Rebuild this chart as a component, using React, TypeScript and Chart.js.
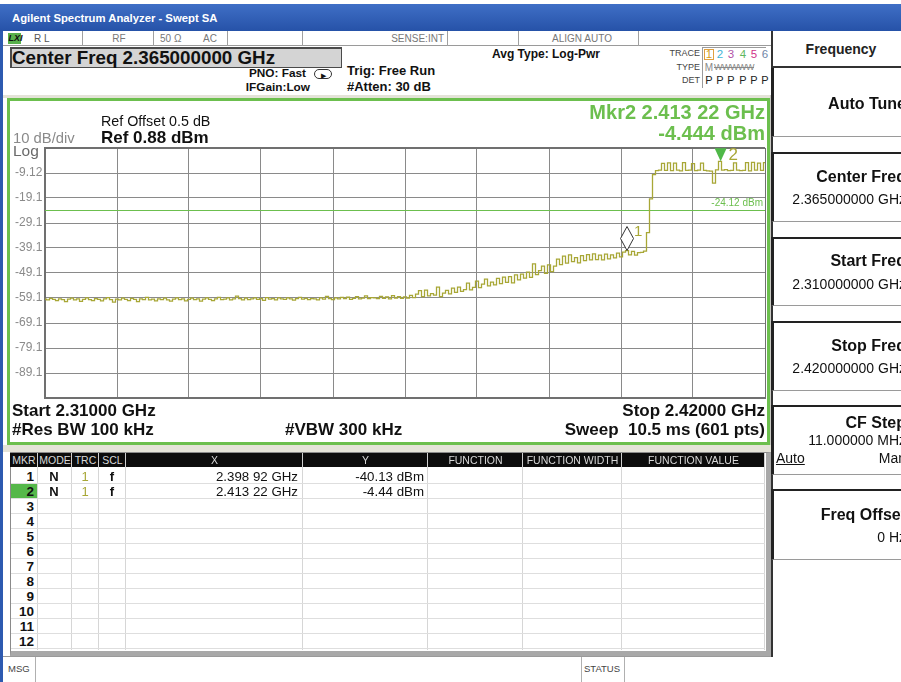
import React, { useEffect, useRef } from 'react';
import { Chart, registerables } from 'chart.js';
Chart.register(...registerables);

// ---------- data ----------
const sweepStartGHz = 2.31;
const sweepStopGHz = 2.42;
const xGridGHz = [2.31, 2.321, 2.332, 2.343, 2.354, 2.365, 2.376, 2.387, 2.398, 2.409, 2.42];
const yGridDbm = [-99.12, -89.12, -79.12, -69.12, -59.12, -49.12, -39.12, -29.12, -19.12, -9.12, 0.88];
const yTickLabels = ['', '-89.1', '-79.1', '-69.1', '-59.1', '-49.1', '-39.1', '-29.1', '-19.1', '-9.12', ''];
const displayLineDbm = -24.12;
const markerFreqGHz = [2.39892, 2.41322];
const markerDbm = [-40.13, -4.444];
const traceDbm = [
  -59.6, -59.9, -59.3, -59.7, -60.2, -59.5, -59.8, -60.6, -59.6, -59.2,
  -59.9, -59.5, -60.5, -59.7, -59.1, -59.8, -60.2, -59.4, -59.7, -60.3,
  -59.5, -59.0, -59.8, -60.8, -59.6, -59.9, -59.2, -59.7, -60.2, -59.3,
  -59.7, -60.6, -59.5, -59.8, -58.9, -59.9, -59.6, -60.3, -59.5, -59.8,
  -59.2, -59.9, -60.4, -59.6, -59.1, -59.8, -59.5, -60.3, -59.7, -59.2,
  -59.8, -59.5, -60.4, -59.6, -59.1, -59.7, -60.2, -59.5, -58.9, -59.8,
  -59.6, -59.1, -59.9, -59.5, -58.4, -59.4, -59.9, -59.2, -59.8, -59.5,
  -59.1, -59.7, -59.4, -60.1, -59.0, -59.6, -59.4, -59.9, -59.1, -59.5,
  -59.7, -59.1, -59.5, -60.0, -59.4, -58.9, -59.6, -59.3, -59.8, -59.4,
  -59.5, -59.9, -59.1, -59.6, -58.5, -59.4, -59.8, -59.1, -59.5, -58.9,
  -59.4, -58.8, -59.7, -59.3, -58.6, -59.5, -59.2, -58.3, -59.4, -59.0,
  -59.1, -59.4, -58.5, -59.3, -58.7, -59.5, -58.2, -59.2, -58.6, -59.3,
  -58.7, -59.2, -58.1, -59.0, -57.6, -56.2, -58.6, -56.0, -58.3, -57.4,
  -58.0, -54.8, -58.6, -57.2, -56.1, -57.5, -55.2, -56.9, -54.8, -56.5,
  -55.8, -53.2, -55.9, -54.9, -52.4, -55.0, -53.6, -51.6, -54.3, -52.8,
  -53.9, -51.3, -53.4, -50.8, -52.9, -50.6, -53.1, -49.9, -51.9, -49.6,
  -51.2, -48.8, -50.9, -45.5, -49.8, -48.2, -46.4, -49.3, -45.9, -48.6,
  -46.4, -43.6, -45.8, -42.4, -45.2, -41.9, -44.6, -43.0, -45.1, -42.2,
  -44.2, -41.8, -43.9, -41.5, -43.8, -42.0, -43.9, -41.6, -43.5, -41.9,
  -43.1, -41.2, -42.7, -40.8, -40.13, -41.9, -40.5, -42.0, -41.0, -40.9,
  -40.4, -33.0, -19.5, -9.8, -8.2, -8.0, -5.3, -8.1, -5.1, -8.2,
  -5.2, -8.0, -8.3, -5.0, -8.1, -8.0, -5.4, -8.2, -8.0, -5.2,
  -8.1, -8.3, -8.4, -13.2, -7.9, -4.44, -8.0, -7.8, -8.2, -8.1,
  -5.1, -8.0, -8.2, -8.1, -5.0, -8.3, -4.9, -8.0, -5.2, -8.1, -5.0,
];
const markerRowLabels = ['1', '2', '3', '4', '5', '6', '7', '8', '9', '10', '11', '12'];
const markerXText = ['2.398 92 GHz', '2.413 22 GHz'];
const markerYText = ['-40.13 dBm', '-4.44 dBm'];

// ---------- helpers ----------
const W = 901;
const FONT = '"Liberation Sans", Arial, sans-serif';
const TRACE_COLOR = '#a8a736';
const GREEN = '#6cbf4e';

type TP = { x: number; y: number; s: number; t: string; b?: boolean; c?: string; a?: 'l' | 'r' | 'c'; st?: React.CSSProperties };
function T({ x, y, s, t, b, c, a = 'l', st }: TP) {
  const style: React.CSSProperties = {
    position: 'absolute', top: y - s / 2, fontSize: s, lineHeight: s + 'px', whiteSpace: 'pre',
    fontWeight: b ? 700 : 400, color: c || '#000', fontFamily: FONT, ...st,
  };
  if (a === 'l') style.left = x;
  else if (a === 'r') style.right = W - x;
  else { style.left = x; style.transform = 'translateX(-50%)'; }
  return <div style={style}>{t}</div>;
}
function Bx({ x, y, w, h, st }: { x: number; y: number; w: number; h: number; st?: React.CSSProperties }) {
  return <div style={{ position: 'absolute', left: x, top: y, width: w, height: h, boxSizing: 'border-box', ...st }} />;
}

const markerPlugin = {
  id: 'markers',
  afterDatasetsDraw(chart: any) {
    const { ctx, scales } = chart;
    const x = scales.x, y = scales.y;
    ctx.save();
    ctx.font = '10px ' + FONT;
    ctx.fillStyle = GREEN;
    ctx.textAlign = 'right';
    ctx.textBaseline = 'bottom';
    ctx.fillText('-24.12 dBm', x.right - 2, y.getPixelForValue(displayLineDbm) - 2);
    const p1x = x.getPixelForValue(markerFreqGHz[0]);
    const p1y = y.getPixelForValue(markerDbm[0]);
    ctx.beginPath();
    ctx.moveTo(p1x, p1y);
    ctx.lineTo(p1x + 6.5, p1y - 12);
    ctx.lineTo(p1x, p1y - 24);
    ctx.lineTo(p1x - 6.5, p1y - 12);
    ctx.closePath();
    ctx.fillStyle = '#ffffff';
    ctx.fill();
    ctx.strokeStyle = '#333';
    ctx.lineWidth = 1;
    ctx.stroke();
    ctx.fillStyle = TRACE_COLOR;
    ctx.font = '15px ' + FONT;
    ctx.textAlign = 'left';
    ctx.textBaseline = 'middle';
    ctx.fillText('1', p1x + 7, p1y - 19);
    const p2x = x.getPixelForValue(markerFreqGHz[1]);
    const p2y = y.getPixelForValue(markerDbm[1]);
    ctx.beginPath();
    ctx.moveTo(p2x - 6, p2y - 13);
    ctx.lineTo(p2x + 6, p2y - 13);
    ctx.lineTo(p2x, p2y);
    ctx.closePath();
    ctx.fillStyle = '#4fb848';
    ctx.fill();
    ctx.fillStyle = TRACE_COLOR;
    ctx.font = '17px ' + FONT;
    ctx.fillText('2', p2x + 8, p2y - 6);
    ctx.restore();
  },
};

function SpectrumChart() {
  const ref = useRef<HTMLCanvasElement>(null);
  useEffect(() => {
    const step = (sweepStopGHz - sweepStartGHz) / (traceDbm.length - 1);
    const gridColor = (c: any) => (c.index === 10 ? '#707070' : '#8a8a8a');
    const gridWidth = (c: any) => (c.index === 10 ? 2 : 1);
    const chart = new Chart(ref.current as HTMLCanvasElement, {
      type: 'line',
      data: {
        datasets: [
          {
            data: traceDbm.map((v, i) => ({ x: sweepStartGHz + i * step, y: v })),
            borderColor: TRACE_COLOR, borderWidth: 1.3, pointRadius: 0, stepped: 'middle', fill: false,
          } as any,
          {
            data: [{ x: sweepStartGHz, y: displayLineDbm }, { x: sweepStopGHz, y: displayLineDbm }],
            borderColor: GREEN, borderWidth: 1, pointRadius: 0, fill: false,
          },
        ],
      },
      options: {
        animation: false, responsive: false, events: [],
        layout: { padding: { left: 5, right: 2, top: 47, bottom: 44 } },
        plugins: { legend: { display: false }, tooltip: { enabled: false } },
        scales: {
          x: {
            type: 'linear', min: sweepStartGHz, max: sweepStopGHz,
            afterBuildTicks: (s: any) => { s.ticks = xGridGHz.map((v) => ({ value: v })); },
            afterFit: (s: any) => { s.height = 0; },
            ticks: { display: false },
            grid: { color: gridColor, lineWidth: 1, drawTicks: false },
            border: { color: '#707070', width: 2 },
          },
          y: {
            type: 'linear', min: yGridDbm[0], max: yGridDbm[yGridDbm.length - 1],
            afterBuildTicks: (s: any) => { s.ticks = yGridDbm.map((v) => ({ value: v })); },
            afterFit: (s: any) => { s.width = 30; },
            ticks: {
              callback: (_v: any, i: number) => yTickLabels[i], color: '#8a8a8a',
              font: { size: 12, family: FONT }, crossAlign: 'far', padding: 0, autoSkip: false,
            },
            grid: { color: gridColor, lineWidth: gridWidth, drawTicks: false },
            border: { color: '#707070', width: 2 },
          },
        },
      } as any,
      plugins: [markerPlugin],
    });
    return () => chart.destroy();
  }, []);
  return <canvas ref={ref} width={757} height={341} style={{ position: 'absolute', left: 10, top: 101, width: 757, height: 341 }} />;
}

const tableCols = [
  { l: 10, r: 38, t: 'MKR' }, { l: 38, r: 72, t: 'MODE' }, { l: 72, r: 99, t: 'TRC' }, { l: 99, r: 126, t: 'SCL' },
  { l: 126, r: 303, t: 'X' }, { l: 303, r: 428, t: 'Y' }, { l: 428, r: 523, t: 'FUNCTION' },
  { l: 523, r: 622, t: 'FUNCTION WIDTH' }, { l: 622, r: 765, t: 'FUNCTION VALUE' },
];
const traceNumColors = ['#d4a020', '#3fb5d6', '#b050a8', '#5fb85f', '#d0308a', '#6f86a8'];
const traceNumX = [709, 720, 731, 743, 754, 765];

const panelButtons = [
  { top: 68, bot: 137 }, { top: 152, bot: 222 }, { top: 237, bot: 306 },
  { top: 321, bot: 391 }, { top: 405, bot: 475 }, { top: 489, bot: 560 },
];

export default function App() {
  const rowTop = 469, rowH = 15;
  return (
    <div style={{ position: 'fixed', left: 0, top: 0, width: 901, height: 682, overflow: 'hidden', background: '#ffffff', fontFamily: FONT }}>
      <Bx x={0} y={4} w={901} h={27} st={{ background: 'linear-gradient(#3f6fc6, #2652a8)' }} />
      <T x={12} y={19} s={11.3} b c="#ffffff" t="Agilent Spectrum Analyzer - Swept SA" />
      <Bx x={0} y={31} w={3} h={651} st={{ background: '#2d5ab0' }} />
      <Bx x={3} y={31} w={769} h={15} st={{ borderBottom: '1px solid #9a9a9a', background: '#fff' }} />
      {[82, 153, 227, 302, 447, 518, 638].map((sx) => <Bx key={sx} x={sx} y={31} w={1} h={15} st={{ background: '#a0a0a0' }} />)}
      <Bx x={8} y={33} w={13} h={11} st={{ background: '#58b04c' }} />
      <T x={8.5} y={38.5} s={9} b c="#111" t="LXI" st={{ fontStyle: 'italic' }} />
      <T x={34} y={38.5} s={10} c="#555" t="R L" />
      <T x={119} y={38.5} s={10} c="#777" a="c" t="RF" />
      <T x={160} y={38.5} s={10} c="#777" t="50 Ω" />
      <T x={203} y={38.5} s={10} c="#777" t="AC" />
      <T x={444} y={38.5} s={10} c="#777" a="r" t="SENSE:INT" />
      <T x={582} y={38.5} s={10} c="#777" a="c" t="ALIGN AUTO" />
      <Bx x={10} y={47} w={332} h={21} st={{ background: '#d4d4d4', border: '1px solid #4a4a4a', borderTopWidth: 2, borderLeftWidth: 2 }} />
      <T x={12} y={58} s={18.8} b c="#111" t="Center Freq 2.365000000 GHz" />
      <T x={306} y={74} s={11.8} b c="#111" a="r" t="PNO: Fast" />
      <T x={310} y={88} s={11.8} b c="#111" a="r" t="IFGain:Low" />
      <Bx x={314} y={69} w={18} h={10} st={{ border: '1px solid #333', borderRadius: 5 }} />
      <T x={321} y={75} s={7} c="#111" t="▶" />
      <T x={347} y={70} s={13} b c="#111" t="Trig: Free Run" />
      <T x={347} y={86.5} s={13} b c="#111" t="#Atten: 30 dB" />
      <T x={492} y={53.5} s={12} b c="#111" t="Avg Type: Log-Pwr" />
      <T x={700} y={53.5} s={9} c="#444" a="r" t="TRACE" />
      <T x={700} y={67} s={9} c="#444" a="r" t="TYPE" />
      <T x={700} y={80.5} s={9} c="#444" a="r" t="DET" />
      <Bx x={702} y={47} w={1} h={41} st={{ background: '#9a9a9a' }} />
      <Bx x={703} y={47} w={63} h={1} st={{ background: '#9a9a9a' }} />
      <Bx x={704} y={49} w={10} h={11} st={{ border: '1px solid #e0a040' }} />
      {traceNumColors.map((c, i) => <T key={i} x={traceNumX[i]} y={54.5} s={11.5} c={c} a="c" t={String(i + 1)} />)}
      <T x={709} y={67.5} s={10} c="#888" a="c" t="M" />
      <T x={714} y={67.5} s={9} c="#888" t="WWWWW" st={{ textDecoration: 'line-through', letterSpacing: -0.5 }} />
      {traceNumX.map((x, i) => <T key={i} x={x} y={80.5} s={11} c="#222" a="c" t="P" />)}
      <Bx x={3} y={95} w={769} h={3} st={{ background: '#e4e3d8' }} />
      <Bx x={7} y={98} w={763} h={347} st={{ border: '3px solid ' + GREEN, background: '#fff' }} />
      <Bx x={770} y={95} w={2} h={357} st={{ background: '#c9c9c4' }} />
      <SpectrumChart />
      <T x={101} y={121} s={14.3} c="#111" t="Ref Offset 0.5 dB" />
      <T x={101} y={137} s={17} b c="#111" t="Ref 0.88 dBm" />
      <T x={13} y={138} s={14.8} c="#8a8a8a" t="10 dB/div" />
      <T x={13} y={150.5} s={15.5} c="#6a6a6a" t="Log" />
      <T x={765} y={112} s={20} b c={GREEN} a="r" t="Mkr2 2.413 22 GHz" />
      <T x={765} y={132.5} s={20} b c={GREEN} a="r" t="-4.444 dBm" />
      <T x={12} y={410} s={17} b c="#111" t="Start 2.31000 GHz" />
      <T x={12} y={429} s={17} b c="#111" t="#Res BW 100 kHz" />
      <T x={285} y={429} s={17} b c="#111" t="#VBW 300 kHz" />
      <T x={765} y={410} s={17} b c="#111" a="r" t="Stop 2.42000 GHz" />
      <T x={765} y={429} s={17} b c="#111" a="r" t="Sweep  10.5 ms (601 pts)" />
      <Bx x={3} y={445} w={769} h={7} st={{ background: '#e4e3d8' }} />
      <Bx x={10} y={452} w={761} h={204} st={{ border: '1px solid #8a8a8a', borderRightWidth: 5, borderBottomWidth: 5, borderRightColor: '#a8a8a8', borderBottomColor: '#a8a8a8', background: '#fff' }} />
      {tableCols.map((c) => (
        <React.Fragment key={c.t}>
          <Bx x={c.l} y={453} w={c.r - c.l} h={14} st={{ background: '#0c0c0c', borderRight: '1px solid #cfcfcf' }} />
          <T x={(c.l + c.r) / 2} y={460.5} s={10.5} c="#d8d8d8" a="c" t={c.t} />
          <Bx x={c.r - 1} y={467} w={1} h={183} st={{ background: '#d6d6d6' }} />
        </React.Fragment>
      ))}
      {markerRowLabels.map((lab, k) => (
        <Bx key={'rl' + k} x={11} y={rowTop + rowH * (k + 1) - 1} w={754} h={1} st={{ background: '#dedede' }} />
      ))}
      <Bx x={11} y={rowTop + rowH} w={26} h={14} st={{ background: '#56b84a' }} />
      {markerRowLabels.map((lab, k) => (
        <T key={'r' + k} x={34} y={rowTop + rowH * k + 7.5} s={13.5} b c="#111" a="r" t={lab} />
      ))}
      {markerXText.map((xt, k) => (
        <React.Fragment key={'m' + k}>
          <T x={54} y={rowTop + rowH * k + 7.5} s={13} b c="#111" a="c" t="N" />
          <T x={85} y={rowTop + rowH * k + 7.5} s={13} c={TRACE_COLOR} a="c" t="1" />
          <T x={112} y={rowTop + rowH * k + 7.5} s={13} b c="#111" a="c" t="f" />
          <T x={298} y={rowTop + rowH * k + 7.5} s={13.3} c="#111" a="r" t={xt} />
          <T x={424} y={rowTop + rowH * k + 7.5} s={13.3} c="#111" a="r" t={markerYText[k]} />
        </React.Fragment>
      ))}
      <Bx x={3} y={656} w={898} h={26} st={{ borderTop: '1px solid #9a9a9a', background: '#fff' }} />
      <T x={8} y={669} s={9.5} c="#444" t="MSG" />
      <Bx x={35} y={657} w={1} h={25} st={{ background: '#b0b0b0' }} />
      <Bx x={581} y={657} w={1} h={25} st={{ background: '#b0b0b0' }} />
      <Bx x={624} y={657} w={1} h={25} st={{ background: '#b0b0b0' }} />
      <T x={584} y={669} s={9.5} c="#444" t="STATUS" />
      <Bx x={771} y={31} w={140} h={626} st={{ background: '#fff', borderLeft: '2px solid #333' }} />
      <Bx x={771} y={31} w={140} h={37} st={{ borderBottom: '2px solid #333' }} />
      <T x={841} y={49} s={14} b c="#222" a="c" t="Frequency" />
      {panelButtons.map((b, i) => (
        <Bx key={'pb' + i} x={771} y={b.top} w={140} h={b.bot - b.top} st={{ borderTop: i === 0 ? 'none' : '2px solid #222', borderBottom: '1px solid #9a9a9a', borderLeft: '3px solid #222' }} />
      ))}
      <T x={906} y={104} s={16} b c="#111" a="r" t="Auto Tune" />
      <T x={906} y={177} s={16} b c="#111" a="r" t="Center Freq" />
      <T x={906} y={199} s={14} c="#111" a="r" t="2.365000000 GHz" />
      <T x={906} y={261} s={16} b c="#111" a="r" t="Start Freq" />
      <T x={906} y={284} s={14} c="#111" a="r" t="2.310000000 GHz" />
      <T x={906} y={346} s={16} b c="#111" a="r" t="Stop Freq" />
      <T x={906} y={368} s={14} c="#111" a="r" t="2.420000000 GHz" />
      <T x={906} y={423} s={16} b c="#111" a="r" t="CF Step" />
      <T x={906} y={440} s={14} c="#111" a="r" t="11.000000 MHz" />
      <T x={776} y={458} s={14} c="#111" t="Auto" st={{ textDecoration: 'underline' }} />
      <T x={906} y={458} s={14} c="#111" a="r" t="Man" />
      <T x={906} y={515} s={16} b c="#111" a="r" t="Freq Offset" />
      <T x={906} y={537} s={14} c="#111" a="r" t="0 Hz" />
    </div>
  );
}
